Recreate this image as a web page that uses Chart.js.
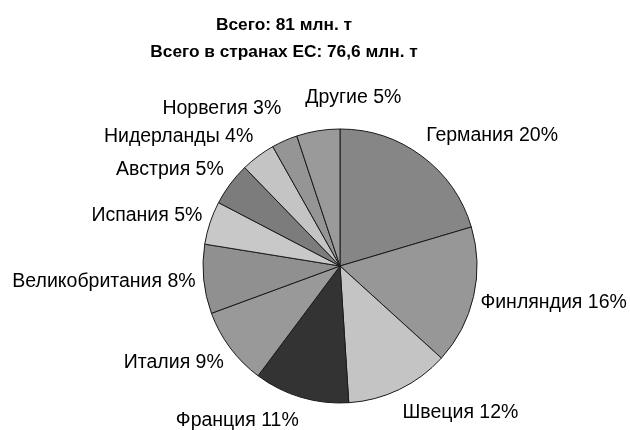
<!DOCTYPE html>
<html>
<head>
<meta charset="utf-8">
<script src="https://cdn.jsdelivr.net/npm/chart.js@4.4.1/dist/chart.umd.min.js"></script>
<style>
html,body{margin:0;padding:0;background:#fff;}
#wrap{width:630px;height:430px;position:relative;}
</style>
</head>
<body>
<div id="wrap"><canvas id="c" width="630" height="430"></canvas></div>
<script>
const titleLines = ["Всего: 81 млн. т", "Всего в странах ЕС: 76,6 млн. т"];
const categories = ["Германия", "Финляндия", "Швеция", "Франция", "Италия", "Великобритания", "Испания", "Австрия", "Нидерланды", "Норвегия", "Другие"];
const shares = [20, 16, 12, 11, 9, 8, 5, 5, 4, 3, 5];
const sliceColors = ["#868686", "#979797", "#c4c4c4", "#333333", "#999999", "#909090", "#c8c8c8", "#7c7c7c", "#c4c4c4", "#959595", "#9a9a9a"];

const FONT = "Arial, 'Liberation Sans', sans-serif";

const labelPlugin = {
  id: 'outLabels',
  afterDraw(chart) {
    const ctx = chart.ctx;
    ctx.save();
    ctx.fillStyle = '#000';
    ctx.font = "bold 17.3px " + FONT;
    ctx.textAlign = 'center';
    ctx.textBaseline = 'middle';
    ctx.fillText(titleLines[0], 284, 25);
    ctx.fillText(titleLines[1], 284, 52);

    const meta = chart.getDatasetMeta(0);
    ctx.font = "19.5px " + FONT;
    const h = 16;
    const boxes = [];
    meta.data.forEach((arc, i) => {
      const p = arc.getProps(['x', 'y', 'startAngle', 'endAngle', 'outerRadius'], true);
      const a = (p.startAngle + p.endAngle) / 2;
      const s = Math.cos(a);
      const r = p.outerRadius + (s > 0.2 ? 7 : (s < -0.2 ? 8 : 13));
      const ax = p.x + Math.cos(a) * r;
      const ay = p.y + Math.sin(a) * r;
      const text = categories[i] + " " + shares[i] + "%";
      const w = ctx.measureText(text).width;
      let left, y;
      if (s > 0.2) { left = ax; y = ay + Math.sin(a) * h * 1.15; }
      else if (s < -0.2) { left = ax - w; y = ay + Math.sin(a) * h; }
      else { left = ax - w / 2; y = ay + Math.sin(a) * h * 1.3; }
      boxes.push({ text, w, left, y, s });
    });
    let prev = null;
    boxes.forEach(b => {
      if (b.s < -0.2) {
        if (prev && b.y > prev.y - 28) b.y = prev.y - 28;
        prev = b;
      }
    });
    boxes.forEach(b => {
      if (b.s >= -0.2 && b.s <= 0.2) {
        boxes.forEach(o => {
          if (o === b) return;
          const vOverlap = Math.abs(o.y - b.y) < h + 6;
          if (vOverlap && b.left < o.left + o.w + 24 && b.left + b.w > o.left - 24) {
            if (b.left + b.w / 2 >= o.left + o.w / 2) b.left = o.left + o.w + 24;
            else b.left = o.left - 24 - b.w;
          }
        });
      }
    });
    ctx.textAlign = 'left';
    ctx.textBaseline = 'middle';
    boxes.forEach(b => ctx.fillText(b.text, b.left, b.y));
    ctx.restore();
  }
};

new Chart(document.getElementById('c'), {
  type: 'pie',
  data: {
    labels: categories,
    datasets: [{
      data: shares,
      backgroundColor: sliceColors,
      borderColor: '#1a1a1a',
      borderWidth: 1
    }]
  },
  options: {
    responsive: false,
    animation: false,
    radius: 137,
    layout: { padding: { left: 203, right: 153, top: 129, bottom: 27 } },
    plugins: {
      legend: { display: false },
      title: { display: false },
      tooltip: { enabled: false }
    }
  },
  plugins: [labelPlugin]
});
</script>
</body>
</html>
